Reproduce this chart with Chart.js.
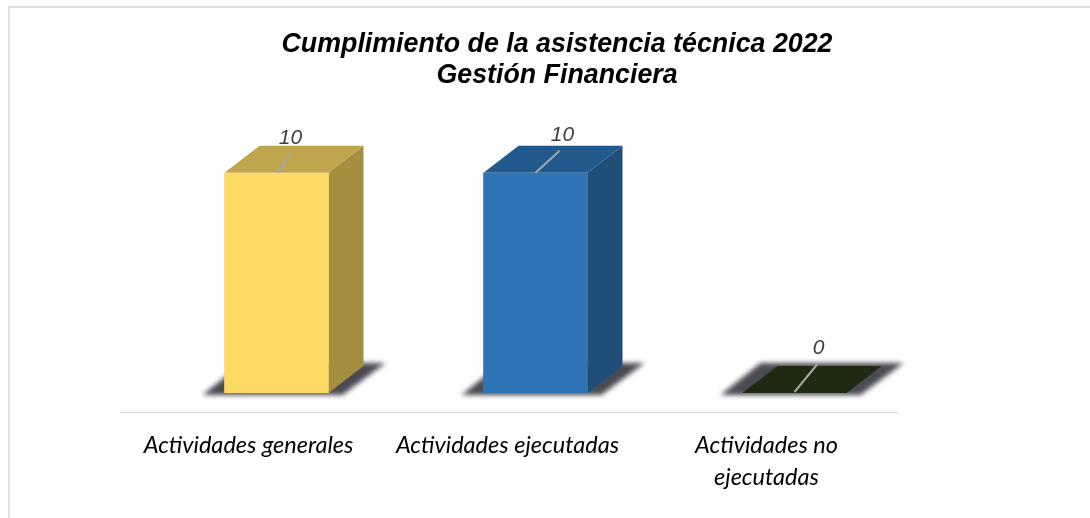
<!DOCTYPE html>
<html>
<head>
<meta charset="utf-8">
<title>Cumplimiento de la asistencia técnica 2022</title>
<script src="https://cdn.jsdelivr.net/npm/chart.js@4"></script>
<style>
  html, body { margin: 0; padding: 0; background: #fff; overflow: hidden; }
  .frame { position: absolute; left: 8px; top: 6px; right: 0; bottom: 0; border-top: 2px solid #e0e0e0; border-left: 2px solid #e0e0e0; }
  .chart-box { position: absolute; left: 24px; top: 0; width: 1066px; height: 518px; }
</style>
</head>
<body>
<div class="frame"></div>
<div class="chart-box"><canvas id="chart" width="1066" height="518"></canvas></div>
<script>
const titleLines = ['Cumplimiento de la asistencia técnica 2022', 'Gestión Financiera'];
const categories = [
  'Actividades generales',
  'Actividades ejecutadas',
  ['Actividades no', 'ejecutadas'],
];
const values = [10, 10, 0];

const frontColors = ['#FFD966', '#2E75B6', '#1E2A12'];
const topColors = ['#BFA54E', '#235A8E', '#1E2A12'];
const sideColors = ['#A68E40', '#1F4E79', '#1E2A12'];

// depth of the fake 3d box
const depthX = 35;
const depthY = 27;
// where the value text and its leader line sit, relative to the bar top centre
const labelOffsets = [
  { tx: 14, ty: -34, x1: 1, y1: 0, x2: 14, y2: -19 },
  { tx: 27, ty: -37, x1: 0, y1: 0, x2: 24, y2: -22 },
  { tx: 24, ty: -45, x1: 0, y1: -1, x2: 23, y2: -29 },
];

const box3d = {
  id: 'box3d',
  beforeDatasetsDraw(chart) {
    const ctx = chart.ctx;
    const bars = chart.getDatasetMeta(0).data;
    const xs = chart.scales.x;
    const ys = chart.scales.y;

    // axis line sits below the floor, shifted left with the labels
    ctx.save();
    ctx.strokeStyle = '#d9d9d9';
    ctx.lineWidth = 1.5;
    ctx.beginPath();
    ctx.moveTo(xs.left - 27, ys.bottom + 19.5);
    ctx.lineTo(xs.right - 26, ys.bottom + 19.5);
    ctx.stroke();
    ctx.restore();

    bars.forEach((bar, i) => {
      const x0 = bar.x - bar.width / 2;
      const x1 = bar.x + bar.width / 2;
      const top = bar.y;
      const base = bar.base;

      // floor shadow
      ctx.save();
      ctx.filter = 'blur(2.5px)';
      ctx.fillStyle = '#4a4a52';
      ctx.beginPath();
      ctx.moveTo(x0 - 22, base + 2);
      ctx.lineTo(x1 + 14, base + 2);
      ctx.lineTo(x1 + 57, base - 30);
      ctx.lineTo(x0 + 18, base - 30);
      ctx.closePath();
      ctx.fill();
      ctx.restore();

      // side face
      ctx.fillStyle = sideColors[i];
      ctx.beginPath();
      ctx.moveTo(x1, top);
      ctx.lineTo(x1 + depthX, top - depthY);
      ctx.lineTo(x1 + depthX, base - depthY);
      ctx.lineTo(x1, base);
      ctx.closePath();
      ctx.fill();

      // top face
      ctx.fillStyle = topColors[i];
      ctx.beginPath();
      ctx.moveTo(x0, top);
      ctx.lineTo(x0 + depthX, top - depthY);
      ctx.lineTo(x1 + depthX, top - depthY);
      ctx.lineTo(x1, top);
      ctx.closePath();
      ctx.fill();
    });
  },
  afterDatasetsDraw(chart) {
    const ctx = chart.ctx;
    chart.getDatasetMeta(0).data.forEach((bar, i) => {
      const o = labelOffsets[i];
      ctx.save();
      ctx.strokeStyle = '#a6a6a6';
      ctx.lineWidth = 2;
      ctx.beginPath();
      ctx.moveTo(bar.x + o.x1, bar.y + o.y1);
      ctx.lineTo(bar.x + o.x2, bar.y + o.y2);
      ctx.stroke();
      ctx.fillStyle = '#404040';
      ctx.font = 'italic 21px "Liberation Sans"';
      ctx.textAlign = 'center';
      ctx.textBaseline = 'middle';
      ctx.fillText(String(values[i]), bar.x + o.tx, bar.y + o.ty);
      ctx.restore();
    });
  },
};

// empty axes only used as side margins, so the title stays centred on the full canvas
const spacerAxis = (position, width) => ({
  position,
  min: 0,
  max: 10,
  grid: { display: false },
  border: { display: false },
  ticks: { display: false },
  afterFit(scale) { scale.width = width; },
});

new Chart(document.getElementById('chart'), {
  type: 'bar',
  data: {
    labels: categories,
    datasets: [{
      data: values,
      backgroundColor: frontColors,
      borderWidth: 0,
      barThickness: 104,
    }],
  },
  options: {
    responsive: false,
    animation: false,
    plugins: {
      legend: { display: false },
      tooltip: { enabled: false },
      title: {
        display: true,
        text: titleLines,
        color: '#000',
        font: { family: '"Liberation Sans"', size: 26.8, weight: 'bold', style: 'italic', lineHeight: 1.15 },
        padding: { top: 29, bottom: 82 },
      },
    },
    scales: {
      x: {
        grid: { display: false },
        border: { display: false },
        ticks: {
          color: '#000',
          labelOffset: -28,
          padding: 29,
          maxRotation: 0,
          autoSkip: false,
          font: { family: 'Lato', size: 23.5, style: 'italic', lineHeight: 1.35 },
        },
        afterFit(scale) { scale.height = 125; },
      },
      y: spacerAxis('left', 123),
      y2: spacerAxis('right', 166),
    },
  },
  plugins: [box3d],
});
</script>
</body>
</html>
